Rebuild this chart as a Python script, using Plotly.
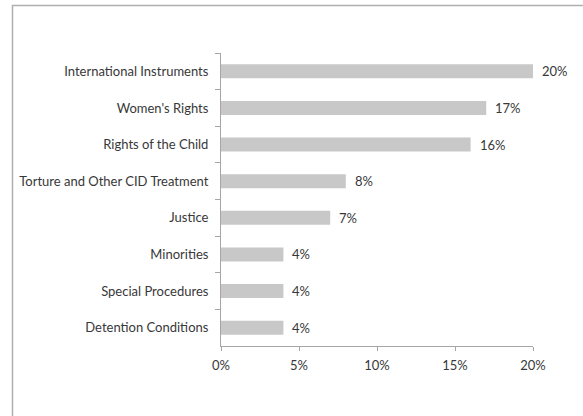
import plotly.graph_objects as go

categories = [
    "International Instruments",
    "Women's Rights",
    "Rights of the Child",
    "Torture and Other CID Treatment",
    "Justice",
    "Minorities",
    "Special Procedures",
    "Detention Conditions",
]
shares = [0.20, 0.17, 0.16, 0.08, 0.07, 0.04, 0.04, 0.04]
x_tick_values = [0, 0.05, 0.10, 0.15, 0.20]
x_tick_labels = ["0%", "5%", "10%", "15%", "20%"]

W, H = 583, 416
ML, MR, MT, MB = 221, 50, 53, 70

FONT = "Lato"
TEXT_COLOR = "#383838"
AXIS_COLOR = "#a6a6a6"

fig = go.Figure(
    go.Bar(
        y=categories,
        x=shares,
        orientation="h",
        marker=dict(color="#c8c8c8", line=dict(width=0)),
        hoverinfo="x+y",
    )
)

# value labels to the right of each bar
for cat, v in zip(categories, shares):
    fig.add_annotation(
        x=v, y=cat, xref="x", yref="y",
        text=f"{v:.0%}", showarrow=False,
        xanchor="left", xshift=7,
        font=dict(family=FONT, size=13, color=TEXT_COLOR),
    )

# outer chart frame, expressed in paper coordinates
pw, ph = W - ML - MR, H - MT - MB
def px_x(p):
    return (p - ML) / pw
def px_y(p):
    return (H - MB - p) / ph

fig.add_shape(
    type="rect", xref="paper", yref="paper",
    x0=px_x(12.5), x1=px_x(W + 20), y0=px_y(5.5), y1=px_y(H + 20),
    line=dict(color="#b0b0b0", width=1.5), fillcolor="rgba(0,0,0,0)",
    layer="below",
)

fig.update_layout(
    width=W, height=H,
    margin=dict(l=ML, r=MR, t=MT, b=MB, autoexpand=False),
    paper_bgcolor="white", plot_bgcolor="white",
    showlegend=False,
    bargap=0.62,
    font=dict(family=FONT, size=13, color=TEXT_COLOR),
    xaxis=dict(
        range=[0, 0.20],
        tickvals=x_tick_values, ticktext=x_tick_labels,
        showgrid=False, zeroline=False,
        showline=True, linecolor=AXIS_COLOR, linewidth=1,
        ticks="outside", ticklen=4, tickcolor=AXIS_COLOR,
        ticklabelstandoff=3,
        tickfont=dict(family=FONT, size=13, color=TEXT_COLOR),
    ),
    yaxis=dict(
        autorange="reversed",
        showgrid=False, zeroline=False,
        showline=True, linecolor=AXIS_COLOR, linewidth=1,
        ticks="outside", ticklen=5, tickcolor=AXIS_COLOR,
        tickson="boundaries",
        ticklabelstandoff=9,
        tickfont=dict(family=FONT, size=13, color=TEXT_COLOR),
    ),
)

fig.write_html("out.html")
